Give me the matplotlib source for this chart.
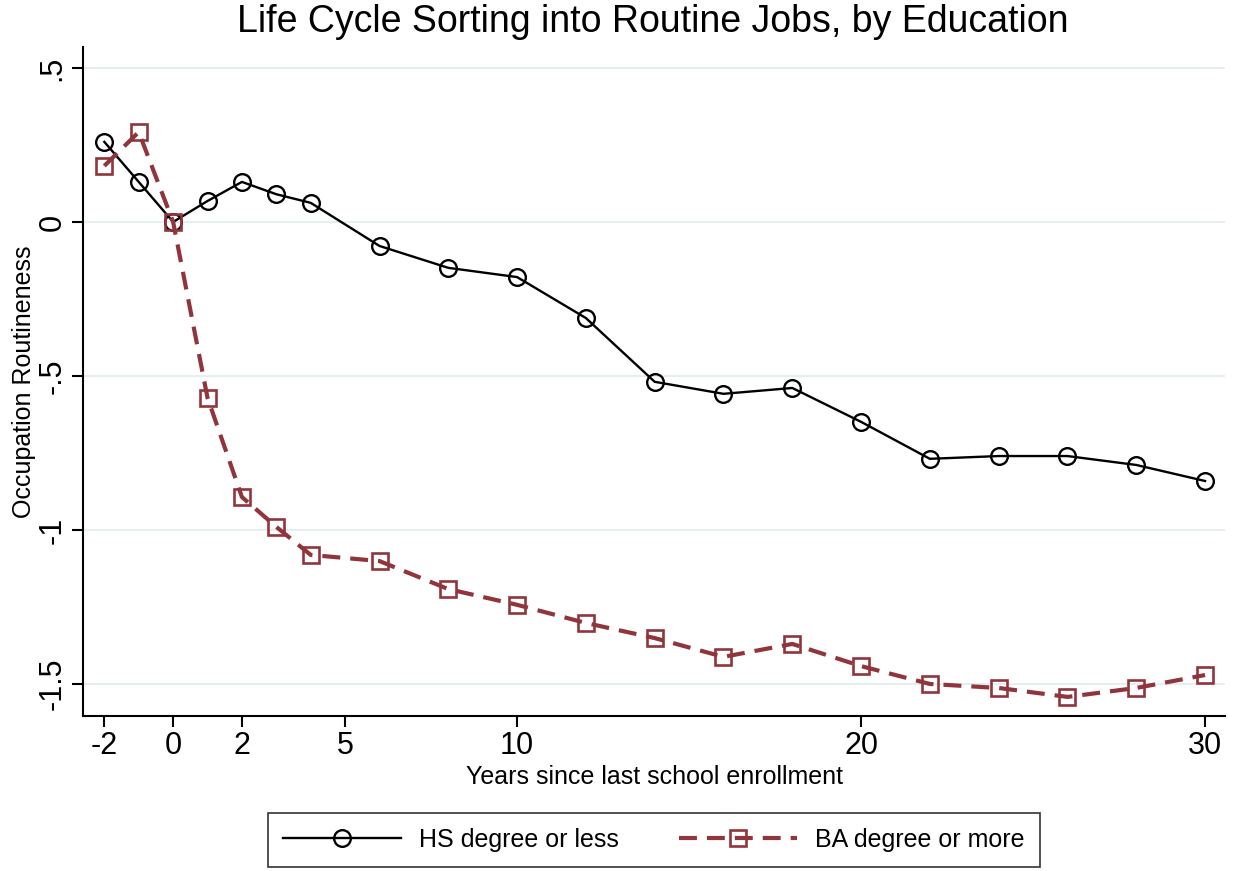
import matplotlib
matplotlib.use("Agg")
import matplotlib.pyplot as plt

years = [-2, -1, 0, 1, 2, 3, 4, 6, 8, 10, 12, 14, 16, 18, 20, 22, 24, 26, 28, 30]
hs = [0.26, 0.13, 0.0, 0.068, 0.13, 0.09, 0.062, -0.078, -0.149, -0.179, -0.312,
      -0.519, -0.558, -0.539, -0.649, -0.769, -0.760, -0.760, -0.789, -0.841]
ba = [0.182, 0.292, 0.0, -0.571, -0.893, -0.990, -1.081, -1.101, -1.192, -1.243,
      -1.302, -1.351, -1.412, -1.370, -1.442, -1.500, -1.513, -1.542, -1.513, -1.471]
xticks = [-2, 0, 2, 5, 10, 20, 30]
yticks = [0.5, 0, -0.5, -1, -1.5]
yticklabels = [".5", "0", "-.5", "-1", "-1.5"]

plt.rcParams['font.family'] = ['Liberation Sans', 'DejaVu Sans']

fig = plt.figure(figsize=(12.33, 8.71), dpi=100)
ax = fig.add_axes([83/1233, 1 - 716/871, (1225-83)/1233, (716-47)/871])

red = (144/255, 53/255, 59/255)
ax.plot(years, hs, color='black', lw=1.7, marker='o', ms=12, mfc='none',
        mec='black', mew=1.7, label='HS degree or less', zorder=3)
ax.plot(years, ba, color=red, lw=3.0, ls=(0, (4.3, 2.4)), marker='s', ms=11.5, mfc='none',
        mec=red, mew=1.9, label='BA degree or more', zorder=3)

ax.set_xlim(-2.62, 30.58)
ax.set_ylim(-1.604, 0.568)
ax.set_xticks(xticks)
ax.set_xticklabels([str(t) for t in xticks])
ax.set_yticks(yticks)
ax.set_yticklabels(yticklabels, rotation=90, va='center')
for t in yticks:
    ax.axhline(t, color='#e6eef1', lw=1.5, zorder=1)

for s in ['top', 'right']:
    ax.spines[s].set_visible(False)
for s in ['left', 'bottom']:
    ax.spines[s].set_linewidth(1.5)
ax.tick_params(axis='both', direction='out', length=8, width=1.5, labelsize=22, pad=3)

ax.set_xlabel('Years since last school enrollment', fontsize=18, labelpad=3)
ax.set_ylabel('Occupation Routineness', fontsize=18, labelpad=1)
fig.text(653/1233, 1 - 22/871, 'Life Cycle Sorting into Routine Jobs, by Education',
         ha='center', va='center', fontsize=27)

leg = fig.legend(loc='center', bbox_to_anchor=(654/1233, 1 - 840/871), ncol=2,
                 fontsize=18, frameon=True, fancybox=False, edgecolor='black',
                 handlelength=4.7, columnspacing=2.4, borderpad=0.6, handletextpad=0.75,
                 borderaxespad=0)
leg.get_frame().set_linewidth(1.2)

fig.savefig('out.png', dpi=100)
